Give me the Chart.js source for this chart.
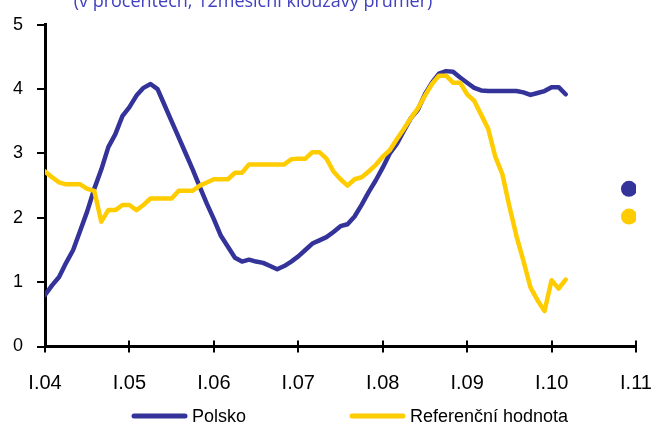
<!DOCTYPE html>
<html>
<head>
<meta charset="utf-8">
<script src="https://cdn.jsdelivr.net/npm/chart.js@4"></script>
<style>
  html, body { margin: 0; padding: 0; background: #fff; }
</style>
</head>
<body>
<canvas id="myChart" width="656" height="428"></canvas>
<script>
// monthly data, index 0 = I.04 (leden 2004)
const tickLabels = ['I.04', 'I.05', 'I.06', 'I.07', 'I.08', 'I.09', 'I.10', 'I.11'];
const seriesNames = ['Polsko', 'Referenční hodnota'];
const polsko = [
  0.80, 0.95, 1.08, 1.30, 1.50, 1.80, 2.10, 2.45, 2.75, 3.10,
  3.30, 3.58, 3.72, 3.90, 4.02, 4.08, 4.00, 3.75, 3.50, 3.25,
  3.00, 2.75, 2.48, 2.22, 1.98, 1.72, 1.55, 1.38, 1.32, 1.35,
  1.32, 1.30, 1.25, 1.20, 1.25, 1.32, 1.40, 1.50, 1.60, 1.65,
  1.70, 1.78, 1.87, 1.90, 2.02, 2.20, 2.40, 2.58, 2.78, 3.00,
  3.15, 3.35, 3.55, 3.68, 3.92, 4.10, 4.24, 4.28, 4.27, 4.18,
  4.10, 4.02, 3.98, 3.97, 3.97, 3.97, 3.97, 3.97, 3.95, 3.91,
  3.94, 3.97, 4.03, 4.03, 3.92
];
const referencni = [
  2.72, 2.63, 2.55, 2.52, 2.52, 2.52, 2.45, 2.42, 1.94, 2.12,
  2.12, 2.20, 2.20, 2.12, 2.20, 2.30, 2.30, 2.30, 2.30, 2.42,
  2.42, 2.42, 2.50, 2.55, 2.60, 2.60, 2.60, 2.70, 2.70, 2.83,
  2.83, 2.83, 2.83, 2.83, 2.83, 2.91, 2.92, 2.92, 3.02, 3.02,
  2.92, 2.72, 2.60, 2.50, 2.60, 2.63, 2.72, 2.82, 2.95, 3.05,
  3.22, 3.38, 3.55, 3.70, 3.90, 4.08, 4.21, 4.21, 4.10, 4.10,
  3.92, 3.82, 3.60, 3.38, 2.95, 2.68, 2.18, 1.72, 1.33, 0.92,
  0.72, 0.55, 1.03, 0.90, 1.04
];
// odhad za prosinec 2010
const forecastMonth = 83;
const polskoForecast = 2.45;
const referencniForecast = 2.02;

const blue = '#333399';
const yellow = '#FFCC00';
const titleText = '(v procentech, 12měsíční klouzavý průměr)';

const toPoints = arr => arr.map((v, i) => ({ x: i, y: v }));

// title, legend and the x ticks (they cross the axis)
const decor = {
  id: 'decor',
  afterDraw(chart) {
    const ctx = chart.ctx;
    const xs = chart.scales.x;
    const yBase = chart.chartArea.bottom;
    ctx.save();
    ctx.strokeStyle = '#000';
    ctx.lineWidth = 2;
    xs.ticks.forEach(t => {
      const px = Math.round(xs.getPixelForValue(t.value));
      ctx.beginPath();
      ctx.moveTo(px, yBase - 6);
      ctx.lineTo(px, yBase + 6);
      ctx.stroke();
    });

    ctx.font = '18px "Open Sans"';
    ctx.fillStyle = '#4040c0';
    ctx.textAlign = 'center';
    ctx.textBaseline = 'alphabetic';
    ctx.fillText(titleText, 253, 7);

    const items = [
      { ds: chart.data.datasets[1], x: 132, tx: 192 },
      { ds: chart.data.datasets[0], x: 350, tx: 410 }
    ];
    ctx.font = '18px "Liberation Sans", Arial';
    ctx.textAlign = 'left';
    ctx.textBaseline = 'middle';
    ctx.lineCap = 'round';
    ctx.lineWidth = 5;
    items.forEach(it => {
      ctx.strokeStyle = it.ds.borderColor;
      ctx.beginPath();
      ctx.moveTo(it.x + 2, 416);
      ctx.lineTo(it.x + 53, 416);
      ctx.stroke();
      ctx.fillStyle = '#000';
      ctx.fillText(it.ds.label, it.tx, 417);
    });
    ctx.restore();
  }
};

var ctx = document.getElementById('myChart').getContext('2d');
window.myChart = new Chart(ctx, {
  type: 'line',
  data: {
    datasets: [
      {
        label: seriesNames[1],
        data: toPoints(referencni),
        borderColor: yellow,
        backgroundColor: yellow,
        borderWidth: 4.5,
        pointRadius: 0,
        tension: 0,
        borderJoinStyle: 'round',
        borderCapStyle: 'round',
        order: 0
      },
      {
        label: seriesNames[0],
        data: toPoints(polsko),
        borderColor: blue,
        backgroundColor: blue,
        borderWidth: 4.5,
        pointRadius: 0,
        tension: 0,
        borderJoinStyle: 'round',
        borderCapStyle: 'round',
        order: 1
      },
      {
        type: 'scatter',
        label: seriesNames[0],
        data: [{ x: forecastMonth, y: polskoForecast }],
        backgroundColor: blue,
        borderWidth: 0,
        pointRadius: 8
      },
      {
        type: 'scatter',
        label: seriesNames[1],
        data: [{ x: forecastMonth, y: referencniForecast }],
        backgroundColor: yellow,
        borderWidth: 0,
        pointRadius: 8
      }
    ]
  },
  options: {
    responsive: false,
    animation: false,
    devicePixelRatio: 1,
    layout: { padding: { top: 22.5, right: 20, bottom: 0, left: 0 } },
    plugins: {
      legend: { display: false },
      title: { display: false },
      tooltip: { enabled: false }
    },
    scales: {
      x: {
        type: 'linear',
        min: 0,
        max: 84,
        border: { color: '#000', width: 3 },
        grid: { drawOnChartArea: false, tickLength: 25, tickColor: 'rgba(0,0,0,0)', lineWidth: 2 },
        ticks: {
          stepSize: 12,
          autoSkip: false,
          maxRotation: 0,
          padding: 0,
          color: '#000',
          font: { family: '"Liberation Sans", Arial', size: 20 },
          callback: v => tickLabels[v / 12]
        },
        afterFit: s => { s.height = 81.5; }
      },
      y: {
        min: 0,
        max: 5,
        border: { color: '#000', width: 3 },
        grid: { drawOnChartArea: false, tickLength: 8, color: '#000', lineWidth: 2 },
        ticks: {
          stepSize: 1,
          padding: 14,
          color: '#000',
          font: { family: '"Liberation Sans", Arial', size: 18 }
        },
        afterFit: s => { s.width = 45; }
      }
    }
  },
  plugins: [decor]
});
</script>
</body>
</html>
